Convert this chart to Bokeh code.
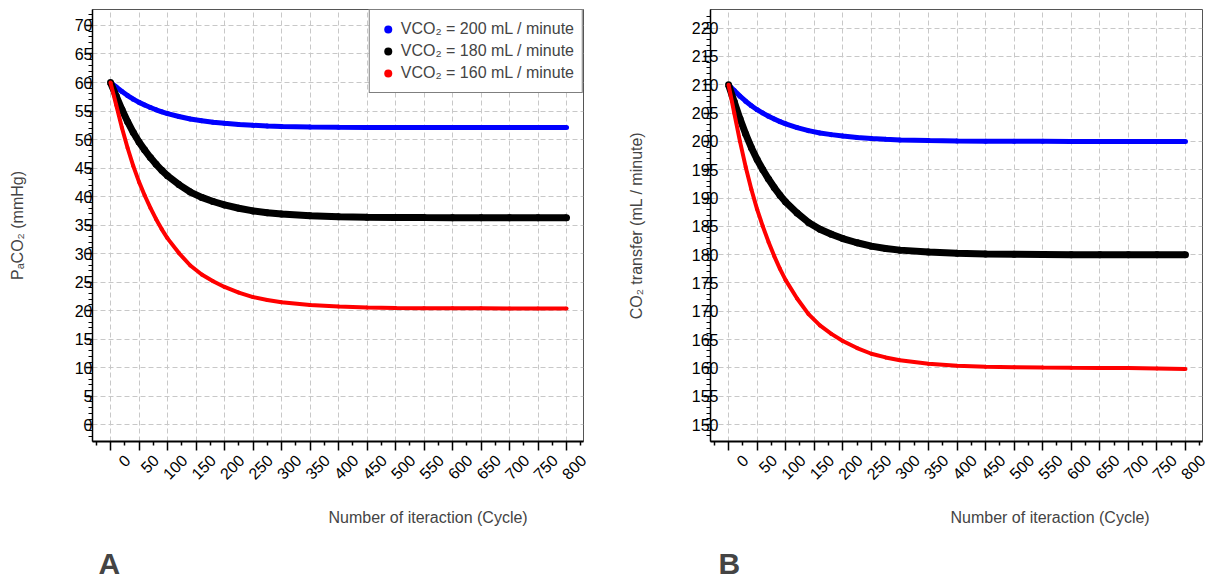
from math import pi
from bokeh.plotting import figure
from bokeh.layouts import row
from bokeh.models import Range1d, FixedTicker, Legend, LegendItem, Title, LinearAxis
from bokeh.embed import file_html
from bokeh.resources import INLINE

# ---------------- data ----------------
iterations = [0, 10, 20, 30, 40, 50, 60, 70, 80, 90, 100, 120, 140, 160, 180,
              200, 225, 250, 275, 300, 350, 400, 450, 500, 550, 600, 650, 700, 750, 800]

paco2_200 = [60.0, 59.21, 58.42, 57.71, 57.08, 56.52, 56.05, 55.62, 55.22, 54.87,
             54.55, 54.04, 53.60, 53.29, 53.05, 52.85, 52.65, 52.50, 52.39, 52.31,
             52.22, 52.16, 52.13, 52.12, 52.11, 52.10, 52.10, 52.10, 52.10, 52.10]
paco2_180 = [60.0, 57.63, 55.26, 53.13, 51.23, 49.57, 48.15, 46.85, 45.66, 44.60,
             43.65, 42.11, 40.80, 39.86, 39.14, 38.55, 37.96, 37.49, 37.18, 36.94,
             36.66, 36.49, 36.39, 36.35, 36.32, 36.30, 36.30, 36.30, 36.30, 36.30]
paco2_160 = [60.0, 56.04, 52.08, 48.52, 45.35, 42.58, 40.20, 38.02, 36.04, 34.26,
             32.68, 30.10, 27.92, 26.34, 25.15, 24.16, 23.17, 22.38, 21.87, 21.47,
             20.99, 20.72, 20.56, 20.48, 20.44, 20.42, 20.41, 20.40, 20.40, 20.40]

co2t_200 = [210.0, 209.0, 208.0, 207.1, 206.3, 205.6, 205.0, 204.45, 203.95, 203.5,
            203.1, 202.45, 201.9, 201.5, 201.2, 200.95, 200.7, 200.5, 200.37, 200.27,
            200.15, 200.08, 200.04, 200.02, 200.01, 200.0, 200.0, 200.0, 200.0, 200.0]
co2t_180 = [210.0, 207.0, 204.0, 201.3, 198.9, 196.8, 195.0, 193.35, 191.85, 190.5,
            189.3, 187.35, 185.7, 184.5, 183.6, 182.85, 182.1, 181.5, 181.1, 180.8,
            180.45, 180.24, 180.12, 180.06, 180.03, 180.0, 180.0, 180.0, 180.0, 180.0]
co2t_160 = [210.0, 205.0, 200.0, 195.5, 191.5, 188.0, 185.0, 182.25, 179.75, 177.5,
            175.5, 172.25, 169.5, 167.5, 166.0, 164.75, 163.5, 162.5, 161.85, 161.35,
            160.75, 160.4, 160.2, 160.1, 160.05, 160.02, 160.0, 160.0, 159.9, 159.8]

series_labels = ["VCO\u2082 = 200 mL / minute",
                 "VCO\u2082 = 180 mL / minute",
                 "VCO\u2082 = 160 mL / minute"]
series_colors = ["#0000ff", "#000000", "#ff0000"]
series_widths = [5, 7, 4]

x_ticks = list(range(0, 801, 50))
y_ticks_a = list(range(0, 71, 5))
y_ticks_b = list(range(150, 221, 5))

x_label = "Number of iteraction (Cycle)"
y_label_a = "P\u2090CO\u2082 (mmHg)"
y_label_b = "CO\u2082 transfer (mL / minute)"

FONT = "Liberation Sans"
H = 581
X0, X1 = -31.6, 829.8
LABEL_SHIFT = 29.5   # x tick labels sit to the right of their ticks


def make_panel(width, left, right, yr, yticks, ylabel, series, letter,
               xlabel_offset, letter_offset, legend=False, y_standoff=-7,
               ylabel_standoff=46):
    p = figure(width=width, height=H, output_backend="svg", toolbar_location=None,
               x_range=Range1d(X0, X1), y_range=Range1d(*yr),
               min_border_left=left, min_border_right=right,
               min_border_top=9, min_border_bottom=H - 9 - 432)
    p.background_fill_color = "white"
    p.border_fill_color = "white"
    p.outline_line_color = "#555555"
    p.outline_line_width = 1
    p.extra_x_ranges = {"xlab": Range1d(X0 - LABEL_SHIFT, X1 - LABEL_SHIFT)}

    # grid
    p.xgrid.ticker = FixedTicker(ticks=x_ticks)
    p.ygrid.ticker = FixedTicker(ticks=yticks)
    for g in (p.xgrid, p.ygrid):
        g.grid_line_color = "#c8c8c8"
        g.grid_line_dash = "5 3"
        g.grid_line_width = 1

    # x axis: ticks
    xa = p.xaxis[0]
    xa.ticker = FixedTicker(ticks=x_ticks,
                            minor_ticks=[t - 25 for t in x_ticks] + [x_ticks[-1] + 25])
    xa.major_label_overrides = {t: "" for t in x_ticks}
    xa.major_label_standoff = 0
    xa.major_tick_in = 0
    xa.major_tick_out = 9
    xa.minor_tick_in = 0
    xa.minor_tick_out = 4
    xa.axis_line_width = 2
    xa.major_tick_line_width = 1.5
    xa.minor_tick_line_width = 1.5
    xa.axis_line_color = "black"

    # x axis: tick labels
    xl = LinearAxis(x_range_name="xlab", ticker=FixedTicker(ticks=x_ticks))
    xl.major_label_orientation = pi / 4
    xl.major_label_text_font = FONT
    xl.major_label_text_font_size = "16px"
    xl.major_label_text_color = "black"
    xl.major_label_standoff = 7
    xl.major_tick_in = 0
    xl.major_tick_out = 0
    xl.minor_tick_in = 0
    xl.minor_tick_out = 0
    xl.major_tick_line_color = None
    xl.minor_tick_line_color = None
    xl.axis_line_color = None
    p.add_layout(xl, "below")

    # y axis
    ya = p.yaxis[0]
    lo, hi = yticks[0], yticks[-1]
    ya.ticker = FixedTicker(ticks=yticks,
                            minor_ticks=list(range(lo - 2, hi + 3)))
    ya.major_label_text_font = FONT
    ya.major_label_text_font_size = "16px"
    ya.major_label_text_color = "black"
    ya.major_label_standoff = y_standoff
    ya.major_tick_in = 0
    ya.major_tick_out = 7
    ya.minor_tick_in = 0
    ya.minor_tick_out = 4
    ya.axis_line_width = 1.5
    ya.major_tick_line_width = 1.5
    ya.minor_tick_line_width = 1.2
    ya.axis_line_color = "black"
    ya.axis_label = ylabel
    ya.axis_label_text_font = FONT
    ya.axis_label_text_font_size = "16px"
    ya.axis_label_text_font_style = "normal"
    ya.axis_label_standoff = ylabel_standoff

    items = []
    for vals, lab, col, lw in zip(series, series_labels, series_colors, series_widths):
        p.line(iterations, vals, line_color=col, line_width=lw)
        r = p.scatter(iterations, vals, size=lw, fill_color=col, line_color=None)
        items.append(LegendItem(label=lab, renderers=[r]))

    if legend:
        lg = Legend(items=items, location="top_right")
        lg.margin = 0
        lg.padding = 8
        lg.spacing = 0
        lg.glyph_width = 20
        lg.glyph_height = 22
        lg.label_height = 22
        lg.label_standoff = 3
        lg.label_text_font = FONT
        lg.label_text_font_size = "16px"
        lg.border_line_color = "black"
        lg.border_line_width = 1
        lg.background_fill_alpha = 1.0
        p.add_layout(lg)

    t1 = Title(text=x_label, align="left", offset=xlabel_offset,
               text_font=FONT, text_font_size="16px", text_font_style="normal",
               standoff=38)
    p.add_layout(t1, "below")
    t2 = Title(text=letter, align="left", offset=letter_offset,
               text_font=FONT, text_font_size="30px", text_font_style="bold",
               standoff=0)
    p.add_layout(t2, "below")
    return p


pa = make_panel(612, 92, 29, (-2.93, 72.8), y_ticks_a, y_label_a,
                [paco2_200, paco2_180, paco2_160], "A", 236, 6, legend=True,
                y_standoff=-7, ylabel_standoff=46)
pb = make_panel(600, 98, 10, (147.0, 223.3), y_ticks_b, y_label_b,
                [co2t_200, co2t_180, co2t_160], "B", 240, 8, legend=False,
                y_standoff=-15, ylabel_standoff=44)

layout = row(pa, pb)
open("out.html", "w").write(file_html(layout, INLINE))
